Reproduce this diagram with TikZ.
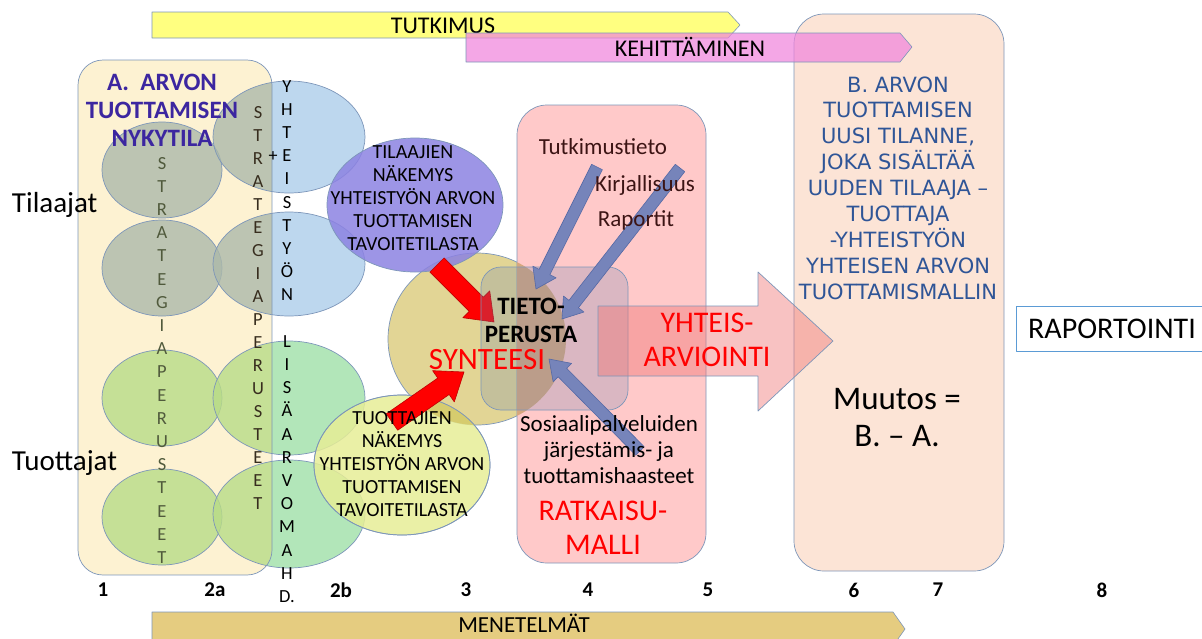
\documentclass[tikz,border=0pt]{standalone}
\usepackage{fontspec}
\setmainfont{Carlito}
\newfontfamily\bfont{DejaVu Sans}
\usetikzlibrary{calc,shapes.geometric}
\definecolor{edgec}{RGB}{125,150,185}
\definecolor{tutkc}{RGB}{255,255,128}
\definecolor{kehc}{RGB}{240,130,220}
\definecolor{menc}{RGB}{229,204,128}
\definecolor{boxAc}{RGB}{253,242,210}
\definecolor{blueOut}{RGB}{172,205,234}
\definecolor{blueIn}{RGB}{172,185,170}
\definecolor{greenOut}{RGB}{159,224,168}
\definecolor{greenIn}{RGB}{184,220,135}
\definecolor{purpc}{RGB}{140,130,226}
\definecolor{sync}{RGB}{226,213,149}
\definecolor{synpink}{RGB}{214,167,126}
\definecolor{tuotc}{RGB}{230,237,150}
\definecolor{tuotsyn}{RGB}{214,204,110}
\definecolor{pinkbox}{RGB}{255,201,201}
\definecolor{innerc}{RGB}{110,130,175}
\definecolor{bigarr}{RGB}{240,120,120}
\definecolor{bboxc}{RGB}{252,228,214}
\definecolor{btext}{RGB}{47,85,151}
\definecolor{atitle}{RGB}{60,38,160}
\definecolor{bluearr}{RGB}{118,132,186}
\definecolor{bluearredge}{RGB}{85,105,165}
\definecolor{rapc}{RGB}{91,155,213}
\definecolor{darkredt}{RGB}{60,20,20}
\definecolor{lettA}{RGB}{80,90,60}
\definecolor{lettB}{RGB}{55,45,30}
\definecolor{pureRed}{RGB}{255,0,0}

\newcommand\fatarrow[6]{%
 \path[#1] let \p1=(#2), \p2=(#3), \n1={atan2(\y2-\y1,\x2-\x1)}, \n2={veclen(\x2-\x1,\y2-\y1)-#6} in
 ($(\p1)+({\n1+90}:#4pt)$) -- ($(\p1)+(\n1:\n2)+({\n1+90}:#4pt)$) -- ($(\p1)+(\n1:\n2)+({\n1+90}:#5pt)$) -- (\p2) -- ($(\p1)+(\n1:\n2)+({\n1-90}:#5pt)$) -- ($(\p1)+(\n1:\n2)+({\n1-90}:#4pt)$) -- ($(\p1)+({\n1-90}:#4pt)$) -- cycle;}

\begin{document}
\begin{tikzpicture}[x=1pt,y=-1pt,line join=round,
  every node/.style={inner sep=0pt, outer sep=0pt},
  edge/.style={draw=edgec,line width=0.7pt},
  ell/.style={ellipse, edge},
  vl/.style={font=\fontsize{18.5}{18.5}\selectfont, anchor=base},
  numl/.style={font=\fontsize{21}{21}\selectfont\bfseries},
  bartext/.style={font=\fontsize{24}{24}\selectfont, anchor=base},
  elltext/.style={font=\fontsize{20}{23}\selectfont, align=center},
  redtext/.style={font=\fontsize{30}{34}\selectfont, align=center, text=pureRed},
  srctext/.style={font=\fontsize{23}{23}\selectfont, text=darkredt},
  sidetext/.style={font=\fontsize{29}{29}\selectfont, anchor=base west},
  bluearrow/.style={fill=bluearr, draw=bluearredge, line width=0.6pt},
  redarrow/.style={fill=pureRed, draw=pureRed!75!black, line width=0.6pt}]
\useasboundingbox (0,0) rectangle (1202,638);

% ---- top / bottom bars
\path[fill=tutkc, edge, line width=.6pt] (152,12) -- (728,12) -- (740,25) -- (728,38) -- (152,38) -- cycle;
\node[bartext] (tutk) at (443,33) {TUTKIMUS};

\node[edge, fill=bboxc, rounded corners=30pt, minimum width=210pt, minimum height=557pt, anchor=north west] (Bbox) at (794,14) {};

\path[fill=kehc, fill opacity=.7, edge, line width=.6pt] (466,33) -- (900,33) -- (912,47) -- (900,62) -- (466,62) -- cycle;
\node[bartext] (keh) at (690,56) {KEHITTÄMINEN};

\path[fill=menc, edge, line width=.6pt] (152,612) -- (893,612) -- (905,629) -- (893,646) -- (152,646) -- cycle;
\node[bartext, font=\fontsize{23}{23}\selectfont] (men) at (524,632) {MENETELMÄT};

% ---- left ellipses
\foreach \x/\y/\a/\b/\co/\ci [count=\i] in {162/170/60/48/blueOut/blueIn, 162/268/60/48/blueOut/blueIn, 162/398/60/48/greenOut/greenIn, 162/517/60/48/greenOut/greenIn, 289/137/76/56/blueOut/blueIn, 289/264/76/52/blueOut/blueIn, 289/398/76/57/greenOut/greenIn, 289/514/76/54/greenOut/greenIn}
  \node[ell, fill=\co, fill opacity=.8, minimum width={2*\a*1pt}, minimum height={2*\b*1pt}] (L\i) at (\x,\y) {};
\begin{scope}
  \clip[rounded corners=25pt] (78,60) rectangle (272,575);
  \fill[boxAc] (78,60) rectangle (272,575);
  \foreach \x/\y/\a/\b/\ci in {162/170/60/48/blueIn, 162/268/60/48/blueIn, 162/398/60/48/greenIn, 162/517/60/48/greenIn, 289/137/76/56/blueIn, 289/264/76/52/blueIn, 289/398/76/57/greenIn, 289/514/76/54/greenIn}
    \path[fill=\ci, fill opacity=.8, edge] (\x,\y) ellipse [x radius=\a pt, y radius=\b pt];
\end{scope}
\node[edge, rounded corners=25pt, minimum width=194pt, minimum height=515pt, anchor=north west] (boxA) at (78,60) {};

\node[font=\fontsize{25}{28}\selectfont\bfseries, text=atitle, align=center] (atit) at (162,110) {A.~~ARVON\\TUOTTAMISEN\\NYKYTILA};

\foreach \l [count=\i] in {S,T,R,A,T,E,G,I,A,P,E,R,U,S,T,E,E,T}
  \node[vl, text=lettA] (ca\i) at (162,{163+(\i-1)*23.2+6}) {\l};
\foreach \l [count=\i] in {S,T,R,A,T,E,G,I,A,P,E,R,U,S,T,E,E,T}
  \node[vl, text=lettB] (cb\i) at (258,{112+(\i-1)*23+6}) {\l};
\foreach \l [count=\i] in {Y,H,T,E,I,S,T,Y,Ö,N,,L,I,S,Ä,A,R,V,O,M,A,H,D.}
  \node[vl] (cc\i) at (287,{86+(\i-1)*23.2+6}) {\l};
\node[font=\fontsize{18}{18}\selectfont] (plus) at (273,157) {+};

% ---- synteesi circle and views
\node[ell, fill=sync, minimum width=178pt, minimum height=172pt] (syn) at (477,339) {};
\node[ell, fill=tuotc, fill opacity=.85, minimum width=176pt, minimum height=140pt] (tuot) at (402,465) {};
\begin{scope}
  \clip (477,339) ellipse [x radius=89pt, y radius=86pt];
  \fill[tuotsyn] (402,465) ellipse [x radius=88pt, y radius=70pt];
\end{scope}
\draw[edge] (402,465) ellipse [x radius=88pt, y radius=70pt];
\node[ell, fill=purpc, fill opacity=.85, minimum width=176pt, minimum height=134pt] (tila) at (415,205) {};

% ---- ratkaisumalli box
\node[edge, fill=pinkbox, rounded corners=30pt, minimum width=189pt, minimum height=458pt, anchor=north west] (ratk) at (517,105) {};
\begin{scope}
  \clip[rounded corners=30pt] (517,105) rectangle (706,563);
  \fill[synpink] (477,339) ellipse [x radius=89pt, y radius=86pt];
\end{scope}

% ---- red arrows (under the tietoperusta box)
\coordinate (r1s) at (437,265); \coordinate (r1e) at (494,322);
\coordinate (r2s) at (392,422); \coordinate (r2e) at (464,372);
\fatarrow{redarrow}{r1s}{r1e}{10}{19}{25}
\fatarrow{redarrow}{r2s}{r2e}{10}{19}{25}

\node[edge, fill=innerc, fill opacity=.25, rounded corners=20pt, minimum width=147pt, minimum height=143pt, anchor=north west] (tieto) at (481,267) {};

% ---- big arrow
\path[fill=bigarr, fill opacity=.45, edge] (598,306) -- (758,306) -- (758,272) -- (833,341) -- (758,411) -- (758,376) -- (598,376) -- cycle;

% ---- blue arrows
\coordinate (b1s) at (597,167); \coordinate (b1e) at (536,289);
\coordinate (b2s) at (680,168); \coordinate (b2e) at (562,319);
\coordinate (b3s) at (640,451); \coordinate (b3e) at (549,359);
\fatarrow{bluearrow}{b1s}{b1e}{6}{13}{19}
\fatarrow{bluearrow}{b2s}{b2e}{6}{13}{19}
\fatarrow{bluearrow}{b3s}{b3e}{6}{13}{19}

% ---- texts
\node[elltext] (tilat) at (413,198) {TILAAJIEN\\NÄKEMYS\\YHTEISTYÖN ARVON\\TUOTTAMISEN\\TAVOITETILASTA};
\node[elltext] (tuott) at (402,464) {TUOTTAJIEN\\NÄKEMYS\\YHTEISTYÖN ARVON\\TUOTTAMISEN\\TAVOITETILASTA};
\node[font=\fontsize{25}{28}\selectfont\bfseries, align=center] (tietot) at (531,320) {TIETO-\\PERUSTA};
\node[font=\fontsize{31}{31}\selectfont, text=pureRed] (synt) at (487,360) {SYNTEESI};
\node[srctext] (tutkt) at (603,147) {Tutkimustieto};
\node[srctext] (kirj) at (645,185) {Kirjallisuus};
\node[srctext] (rap) at (636,220) {Raportit};
\node[font=\fontsize{23}{26}\selectfont, align=center] (sos) at (609,450) {Sosiaalipalveluiden\\järjestämis- ja\\tuottamishaasteet};
\node[redtext] (ratkt) at (603,528) {RATKAISU-\\MALLI};
\node[redtext] (yht) at (707,340) {YHTEIS-\\ARVIOINTI};
\node[font=\bfont\fontsize{21}{25.9}\selectfont, text=btext, align=center] (btxt) at (898,188) {B. ARVON\\TUOTTAMISEN\\UUSI TILANNE,\\JOKA SISÄLTÄÄ\\UUDEN TILAAJA –\\TUOTTAJA\\-YHTEISTYÖN\\YHTEISEN ARVON\\TUOTTAMISMALLIN};
\node[font=\fontsize{33}{37}\selectfont, align=center] (muut) at (897,418) {Muutos =\\B. – A.};
\node[draw=rapc, line width=1pt, fill=white, minimum width=192pt, minimum height=45pt, font=\fontsize{30}{30}\selectfont] (rapo) at (1112,329) {RAPORTOINTI};

\node[sidetext] (tilaajat) at (12,212) {Tilaajat};
\node[sidetext] (tuottajat) at (12,470) {Tuottajat};

\foreach \t/\x [count=\i] in {1/103, 2a/215, 2b/341, 3/466, 4/588, 5/708, 6/854, 7/938, 8/1102}
  \node[numl] (n\i) at (\x,590) {\t};
\end{tikzpicture}
\end{document}
